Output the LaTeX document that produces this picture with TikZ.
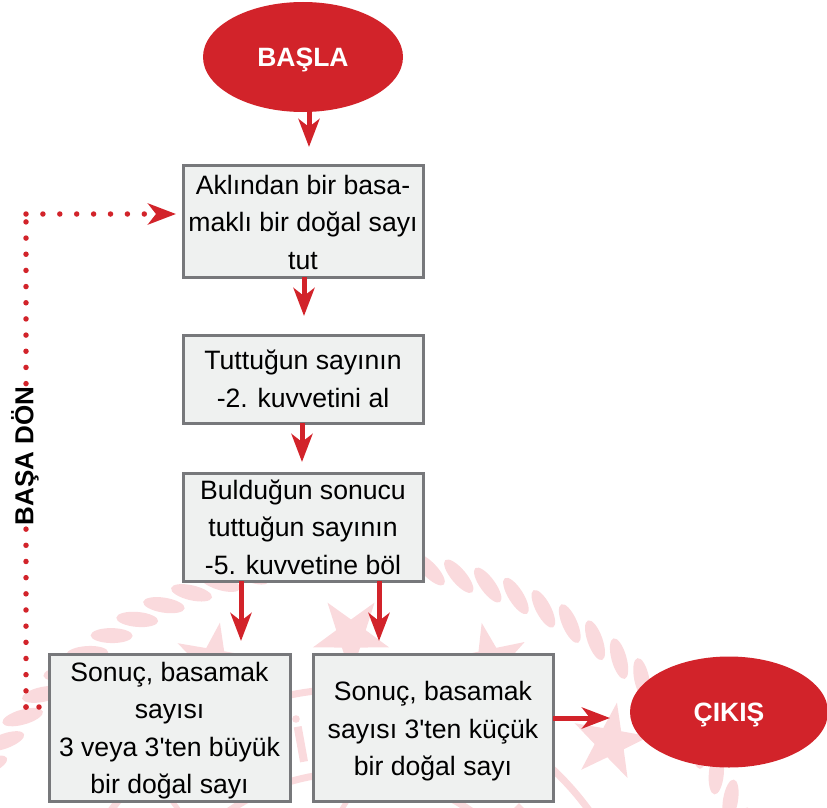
\documentclass[tikz,border=0pt]{standalone}
\usepackage{fontspec}
\setmainfont{Liberation Sans}[Ligatures=TeXOff]
\usetikzlibrary{shapes.geometric,arrows.meta,calc}
\definecolor{kirmizi}{HTML}{D2232A}
\definecolor{kutu}{HTML}{EFF1F0}
\definecolor{cerceve}{HTML}{77787B}
\definecolor{soluk}{HTML}{FADADD}
\newcommand{\solukyildiz}[3]{\fill[soluk,shift={(#1,#2)},x=1pt,y=1pt,rotate=#3] (90:40) -- (126:15.5) -- (162:40) -- (198:15.5) -- (234:40) -- (270:15.5) -- (306:40) -- (342:15.5) -- (18:40) -- (54:15.5) -- cycle;}
\newcommand{\ust}[1]{\rule{0pt}{#1pt}}
\tikzset{
 x=1pt,y=-1pt,
 kutubox/.style={draw=cerceve,line width=3pt,fill=kutu,inner sep=0pt,outer sep=0pt,align=center,font=\fontsize{26.6}{37.5}\selectfont},
 terminal/.style={ellipse,fill=kirmizi,text=white,inner sep=0pt,outer sep=0pt,font=\bfseries\fontsize{26.5}{30}\selectfont},
 okbas/.style={-{Stealth[length=28pt,width=21pt,inset=8pt]},draw=kirmizi,line width=5pt},
 noktali/.style={draw=kirmizi,line width=5.5pt,line cap=round,dash pattern=on 0pt off #1},
 halkaarc/.style={draw=soluk,line width=7pt},
}
\begin{document}
\begin{tikzpicture}
\useasboundingbox (0,0) rectangle (827,808);
\clip (0,0) rectangle (827,808);
% watermark
\foreach \k in {-20,...,13}{
  \pgfmathsetmacro{\t}{75.1-4.1*\k}
  \fill[soluk,shift={(350,985)},x=1pt,y=1pt,rotate=\t] (423,0) ellipse[x radius=7.5,y radius=21,rotate=-35];
}
\begin{scope}[shift={(350,985)},x=1pt,y=1pt]
  \draw[halkaarc] (30:296) arc[start angle=30,end angle=150,radius=296];
  \draw[halkaarc] (30:212) arc[start angle=30,end angle=150,radius=212];
\end{scope}
\solukyildiz{351}{635}{180}
\solukyildiz{213}{662}{-10}
\solukyildiz{490}{662}{12}
\solukyildiz{610}{742}{-10}
\draw[soluk,line width=8pt] (297.7,726.7) -- (304,761.7);
\fill[soluk] (296,719) circle[radius=3.8];
\draw[soluk,line width=5pt] (172,801) -- (178,809);
\draw[soluk,line width=5pt] (347,801) -- (342,809);
\fill[soluk] (519,803) -- (513,809) -- (525,809) -- cycle;
% nodes
\node[terminal,minimum width=200pt,minimum height=110pt] (bas) at (303,57) {\ust{25}BAŞLA};
\node[kutubox,minimum width=240pt,minimum height=112pt] (n1) at (303,221) {\ust{22}Aklından bir basa-\\maklı bir doğal sayı\\tut};
\node[kutubox,minimum width=240pt,minimum height=88pt] (n2) at (303,379) {Tuttuğun sayının\\-2. kuvvetini al};
\node[kutubox,minimum width=240pt,minimum height=108pt] (n3) at (303,527) {\ust{20}Bulduğun sonucu\\tuttuğun sayının\\-5. kuvvetine böl};
\node[kutubox,minimum width=241pt,minimum height=147pt] (n4) at (169.5,727.5) {\ust{26}Sonuç, basamak\\sayısı\\3 veya 3'ten büyük\\bir doğal sayı};
\node[kutubox,minimum width=240pt,minimum height=147pt] (n5) at (433,727.5) {\ust{27}Sonuç, basamak\\sayısı 3'ten küçük\\bir doğal sayı};
\node[terminal,minimum width=198pt,minimum height=111pt] (cikis) at (729,712) {\ust{25}ÇIKIŞ};
% connectors
\draw[okbas,shorten >=18pt] ([xshift=6pt]bas.south) -- ([xshift=6pt]n1.north);
\draw[okbas,shorten >=19pt] ([xshift=1pt]n1.south) -- ([xshift=1pt]n2.north);
\draw[okbas,shorten >=11pt] ([xshift=-1pt]n2.south) -- ([xshift=-1pt]n3.north);
\draw[okbas,shorten >=13pt] ([xshift=-62pt]n3.south) -- ([xshift=-62pt]n3.south |- n4.north);
\draw[okbas,shorten >=13pt] ([xshift=76pt]n3.south) -- ([xshift=76pt]n3.south |- n5.north);
\draw[okbas,shorten >=20pt] ([yshift=9.5pt]n5.east) -- ([yshift=9.5pt]n5.east -| cikis.west);
% return path
\coordinate (solhat) at (26,0);
\coordinate (giris) at ([yshift=20.5pt]n4.west);
\coordinate (cikisnokta) at ([yshift=7pt]n1.west);
\coordinate (kose1) at (giris -| solhat);
\coordinate (kose2) at (cikisnokta -| solhat);
\draw[noktali=13pt] (kose1) -- (giris);
\draw[noktali=16.17pt] (kose1) -- (kose2);
\draw[noktali=16.9pt,-{Stealth[length=28pt,width=21pt,inset=8pt]},shorten >=7pt] (kose2) -- (cikisnokta);
\node[fill=white,rotate=90,inner sep=0pt,minimum height=24pt,font=\bfseries\fontsize{26}{30}\selectfont] (don) at (25,456) {BAŞA DÖN};
\end{tikzpicture}
\end{document}
